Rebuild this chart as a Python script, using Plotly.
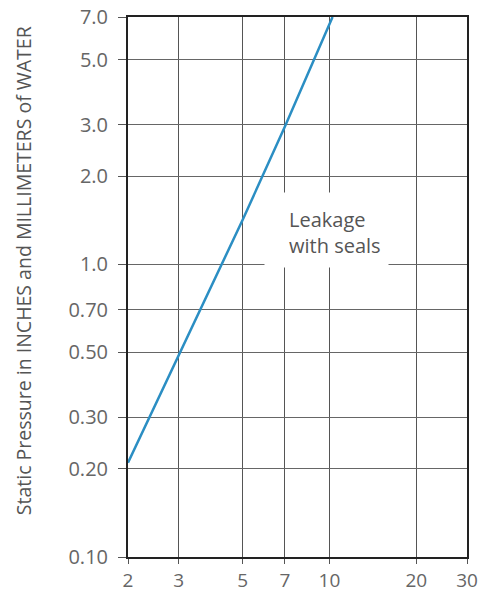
import plotly.graph_objects as go

# values
flow = [2, 3, 5, 7, 10.25]
pressure = [0.21, 0.49, 1.42, 2.95, 7.0]

x_ticks = [2, 3, 5, 7, 10, 20, 30]
x_labels = ["2", "3", "5", "7", "10", "20", "30"]
y_ticks = [0.1, 0.2, 0.3, 0.5, 0.7, 1, 2, 3, 5, 7]
y_labels = ["0.10", "0.20", "0.30", "0.50", "0.70", "1.0", "2.0", "3.0", "5.0", "7.0"]

FONT = "Open Sans"

fig = go.Figure()
fig.add_trace(go.Scatter(x=flow, y=pressure, mode="lines",
                         line=dict(color="#2b8ec3", width=2.5),
                         showlegend=False, hoverinfo="skip"))

# white patch behind the label (log-axis coordinates), then the label itself
fig.add_annotation(x=0.99, y=0.117, xref="x", yref="y", text=" ", showarrow=False,
                   bgcolor="white", width=123, height=74, borderpad=0,
                   xanchor="center", yanchor="middle")
fig.add_annotation(x=0.856, y=0.11, xref="x", yref="y",
                   text="Leakage<br>with seals", showarrow=False,
                   align="left", xanchor="left", yanchor="middle", borderpad=0,
                   font=dict(family=FONT, size=20, color="#555"))

fig.add_annotation(x=-0.31, y=0.531, xref="paper", yref="paper", xanchor="center",
                   yanchor="middle", textangle=-90, showarrow=False,
                   text="Static Pressure in INCHES and MILLIMETERS of WATER",
                   font=dict(family=FONT, size=19.5, color="#555"))

fig.update_xaxes(type="log", range=[0.30103, 1.47712],
                 tickvals=x_ticks, ticktext=x_labels, automargin=False,
                 showgrid=True, gridcolor="#555", gridwidth=1,
                 ticks="outside", ticklen=5, tickcolor="#555",
                 showline=True, linecolor="#222", linewidth=2, mirror=True,
                 tickfont=dict(family=FONT, size=19, color="#666"),
                 zeroline=False)
fig.update_yaxes(type="log", range=[-1, 0.845098],
                 tickvals=y_ticks, ticktext=y_labels, automargin=False,
                 showgrid=True, gridcolor="#666", gridwidth=1,
                 ticks="outside", ticklen=8, tickcolor="#555", ticklabelstandoff=6,
                 showline=True, linecolor="#222", linewidth=2, mirror=True,
                 tickfont=dict(family=FONT, size=20, color="#666"),
                 zeroline=False)

fig.update_layout(width=480, height=592, plot_bgcolor="white", paper_bgcolor="white",
                  margin=dict(l=128, r=13, t=17, b=35))

# drop the browser's default 8px body margin so the figure fills the window
fig.write_html("out.html", config={"displayModeBar": False},
               post_script="document.body.style.margin='0';")
